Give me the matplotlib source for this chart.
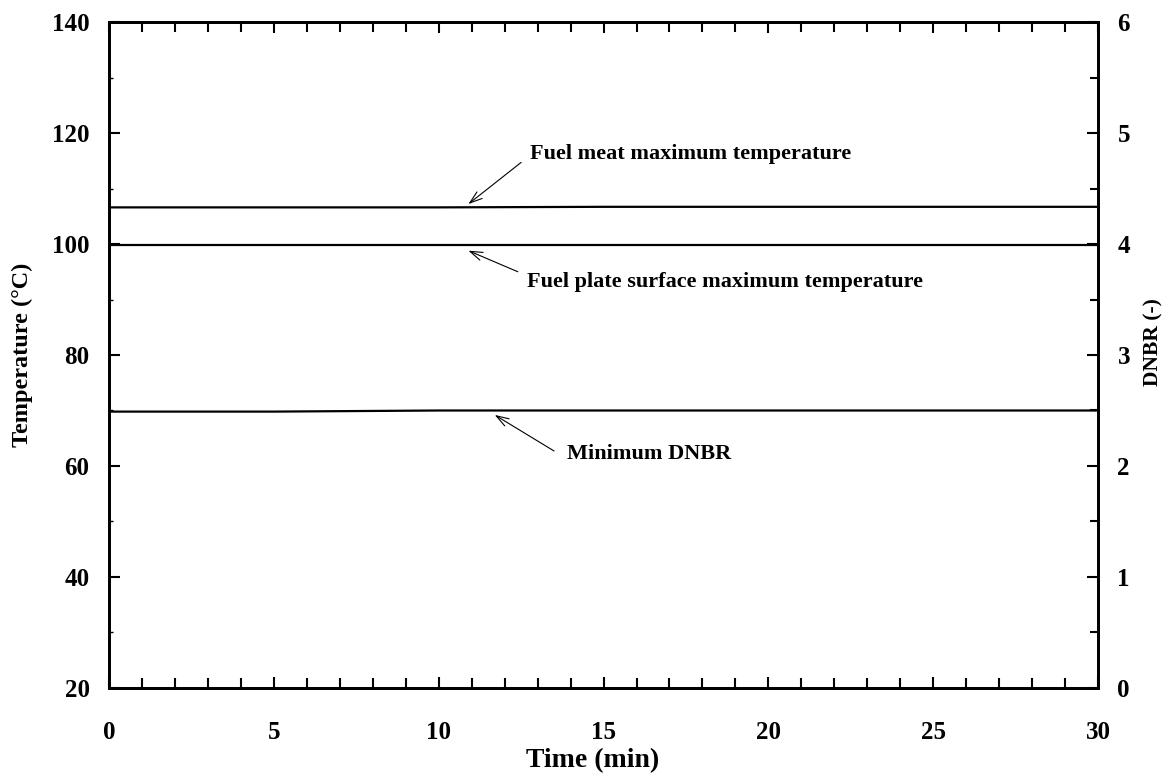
import matplotlib.pyplot as plt
from matplotlib.ticker import MultipleLocator

plt.rcParams["font.family"] = ["Liberation Serif", "DejaVu Serif"]
plt.rcParams["font.weight"] = "bold"

# values
time_min = [0, 5, 10, 15, 20, 25, 30]
fuel_meat_temp = [106.6, 106.6, 106.6, 106.7, 106.7, 106.7, 106.7]
fuel_plate_temp = [99.8, 99.8, 99.8, 99.8, 99.8, 99.8, 99.8]
min_dnbr = [2.49, 2.49, 2.5, 2.5, 2.5, 2.5, 2.5]

fig = plt.figure(figsize=(11.71, 7.78), dpi=100)
ax = fig.add_axes([0.0931, 0.1157, 0.8446, 0.856])
ax2 = ax.twinx()

ax.plot(time_min, fuel_meat_temp, color="black", lw=1.6)
ax.plot(time_min, fuel_plate_temp, color="black", lw=1.6)
ax2.plot(time_min, min_dnbr, color="black", lw=1.6)

ax.set_xlim(0, 30)
ax.set_ylim(20, 140)
ax2.set_ylim(0, 6)

ax.xaxis.set_major_locator(MultipleLocator(5))
ax.xaxis.set_minor_locator(MultipleLocator(1))
ax.yaxis.set_major_locator(MultipleLocator(20))
ax.yaxis.set_minor_locator(MultipleLocator(10))
ax2.yaxis.set_major_locator(MultipleLocator(1))
ax2.yaxis.set_minor_locator(MultipleLocator(0.5))

for a in (ax, ax2):
    for s in a.spines.values():
        s.set_linewidth(2)

ax.tick_params(axis="x", which="both", direction="in", top=True, labelsize=18,
               pad=24, width=1.5)
ax.tick_params(axis="x", which="major", length=8)
ax.tick_params(axis="x", which="minor", length=7)
ax.tick_params(axis="y", which="major", direction="in", length=8, width=1.5,
               labelsize=18, pad=14)
ax.tick_params(axis="y", which="minor", direction="in", length=3, width=1)
ax2.tick_params(axis="y", which="major", direction="in", length=8, width=1.5,
                labelsize=18, pad=14)
ax2.tick_params(axis="y", which="minor", direction="in", length=6, width=1.5)

ax.set_xlabel("Time (min)", fontsize=20, fontweight="bold")
ax.set_ylabel("Temperature (°C)", fontsize=17.5, fontweight="bold")
ax2.set_ylabel("DNBR (-)", fontsize=15.5, fontweight="bold")
ax.xaxis.set_label_coords(0.489, -0.09)
ax.yaxis.set_label_coords(-0.077, 0.5)
ax2.yaxis.set_label_coords(1.0455, 0.52)

arrow = dict(arrowstyle="->,head_length=0.9,head_width=0.3", color="black",
             lw=0.8, shrinkA=0, shrinkB=0)

ax.annotate("", xy=(10.9, 107.2), xytext=(12.5, 114.7), arrowprops=arrow)
ax.text(12.76, 116.2, "Fuel meat maximum temperature", fontsize=16,
        fontweight="bold", ha="left", va="center")

ax.annotate("", xy=(10.9, 98.8), xytext=(12.4, 95.0), arrowprops=arrow)
ax.text(12.67, 93.2, "Fuel plate surface maximum temperature", fontsize=16,
        fontweight="bold", ha="left", va="center")

ax.annotate("", xy=(11.7, 69.2), xytext=(13.5, 62.7), arrowprops=arrow)
ax.text(13.9, 62.2, "Minimum DNBR", fontsize=16,
        fontweight="bold", ha="left", va="center")

fig.savefig("out.png", dpi=100)
